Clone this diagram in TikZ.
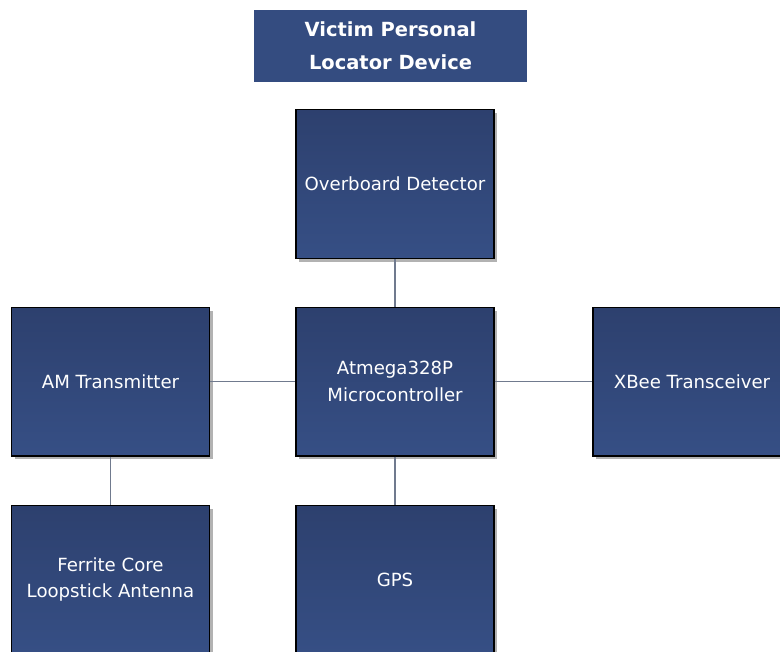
\documentclass[tikz,border=0pt]{standalone}
\usepackage{fontspec}
\setmainfont{DejaVu Sans}
\usetikzlibrary{shadows}
\definecolor{boxtop}{RGB}{45,64,110}
\definecolor{boxbot}{RGB}{54,79,133}
\definecolor{titlefill}{RGB}{52,76,128}
\definecolor{linkcol}{RGB}{112,122,142}
\tikzset{
  blockbox/.style={rectangle, draw=black, line width=1pt,
    top color=boxtop, bottom color=boxbot, text=white,
    minimum width=148.5pt, minimum height=111.5pt, inner sep=0pt,
    align=center, font=\fontsize{13.6}{20}\selectfont,
    drop shadow={shadow xshift=2.5pt, shadow yshift=-2.5pt, fill=black, opacity=0.3}},
  titlebox/.style={rectangle, fill=titlefill, text=white,
    minimum width=204.75pt, minimum height=54pt, inner sep=0pt,
    align=center, font=\bfseries\fontsize{14.6}{24.5}\selectfont},
  link/.style={draw=linkcol, line width=0.9pt}
}
\begin{document}
\begin{tikzpicture}[x=0.75pt,y=-0.75pt]
\useasboundingbox (0,0) rectangle (780,651);
\node[titlebox] (title) at (390.5,46) {Victim Personal\\Locator Device};
\node[blockbox] (over) at (395,184) {Overboard Detector};
\node[blockbox] (atm) at (395,381.5) {Atmega328P\\Microcontroller};
\node[blockbox] (am) at (110.5,381.5) {AM Transmitter};
\node[blockbox] (xbee) at (692,381.5) {XBee Transceiver};
\node[blockbox] (ferr) at (110.5,579.5) {Ferrite Core\\Loopstick Antenna};
\node[blockbox] (gps) at (395,579.5) {GPS};
\draw[link] (over.south) -- (atm.north);
\draw[link] (am.east) -- (atm.west);
\draw[link] (atm.east) -- (xbee.west);
\draw[link] (atm.south) -- (gps.north);
\draw[link] (am.south) -- (ferr.north);
\end{tikzpicture}
\end{document}
